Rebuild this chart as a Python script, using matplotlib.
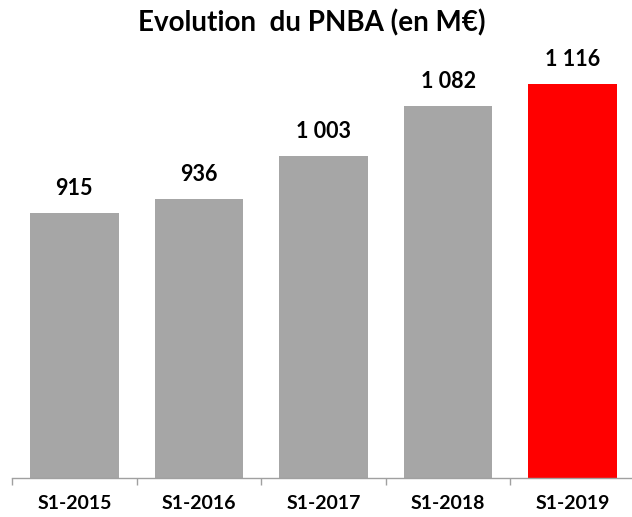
import matplotlib
matplotlib.use("Agg")
import matplotlib.pyplot as plt
import numpy as np

categories = ["S1-2015", "S1-2016", "S1-2017", "S1-2018", "S1-2019"]
values = [915, 936, 1003, 1082, 1116]
value_labels = ["915", "936", "1 003", "1 082", "1 116"]
colors = ["#A6A6A6", "#A6A6A6", "#A6A6A6", "#A6A6A6", "#FF0000"]
title = "Evolution  du PNBA (en M€)"

plt.rcParams['font.family'] = ['Lato', 'DejaVu Sans']

W, H = 632, 517
fig = plt.figure(figsize=(W / 100, H / 100), dpi=100)
left_px, right_px, bottom_px, top_px = 12, 635, 478, 60
ax = fig.add_axes([left_px / W, (H - bottom_px) / H, (right_px - left_px) / W, (bottom_px - top_px) / H])

x = np.arange(len(categories))
ax.bar(x, values, width=0.71, color=colors, zorder=2)
ax.set_xlim(-0.5, len(categories) - 0.5)
ax.set_ylim(500, 1153.5)

for xi, v, lab in zip(x, values, value_labels):
    ax.annotate(lab, (xi, v), xytext=(0, 17.6), textcoords="offset points",
                ha="center", va="center", fontsize=15.5, fontweight="bold", color="black")

for s in ["top", "right", "left"]:
    ax.spines[s].set_visible(False)
ax.spines["bottom"].set_color("#A0A0A0")
ax.spines["bottom"].set_linewidth(1.0)
ax.set_yticks([])
ax.set_xticks(x)
ax.set_xticklabels(categories, fontsize=14, fontweight="bold")
ax.tick_params(axis="x", which="major", length=0, pad=12)
ax.set_xticks(np.arange(-0.5, len(categories)), minor=True)
ax.tick_params(axis="x", which="minor", length=5, color="#A0A0A0", width=1.0)

fig.text(312 / W, 1 - 23 / H, title, ha="center", va="center", fontsize=20, fontweight="bold")

fig.savefig("out.png", dpi=100)
